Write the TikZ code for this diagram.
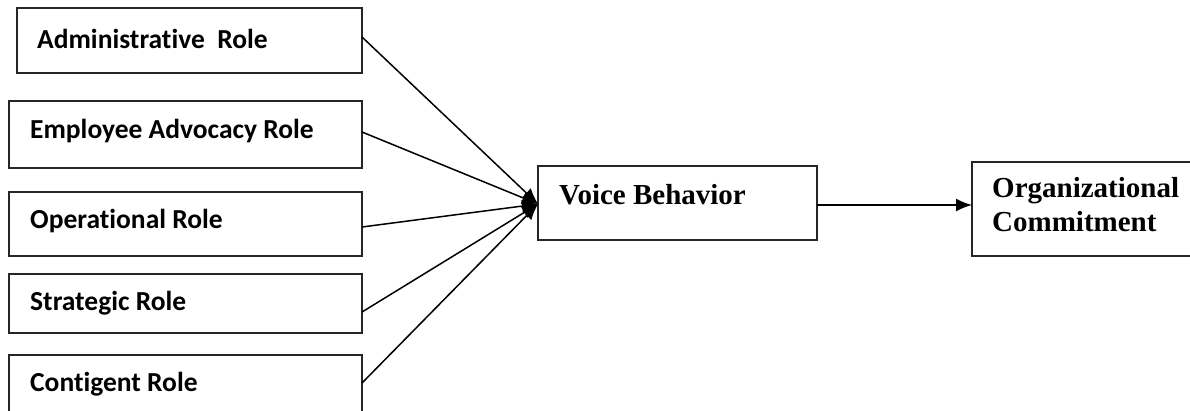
\documentclass[tikz,border=0pt]{standalone}
\usepackage{fontspec}
\setmainfont{Liberation Serif}
\newfontfamily\calib[Ligatures=NoCommon]{Carlito}
\usetikzlibrary{arrows.meta}
\begin{document}
\begin{tikzpicture}[x=1pt,y=-1pt,
  box/.style={draw=black!85, line width=1.4pt},
  roletext/.style={anchor=west, inner sep=0pt, font=\calib\bfseries\fontsize{27.5}{30}\selectfont},
  sertext/.style={anchor=west, inner sep=0pt, align=left, font=\bfseries\fontsize{29}{34}\selectfont},
  conn/.style={line width=1.5pt, -{Latex[length=16pt,width=13pt]}}]
\useasboundingbox (0,0) rectangle (1190,410);
\begin{scope}
\clip (0,0) rectangle (1190,410);
% left boxes
\draw[box] (17,8) rectangle (362,73);
\draw[box] (9,101) rectangle (362,168);
\draw[box] (9,192) rectangle (362,256);
\draw[box] (9,274) rectangle (362,333);
\draw[box] (9,355) rectangle (362,420);
% right boxes
\draw[box] (538,166) rectangle (817,240);
\draw[box] (972,162) rectangle (1196,256);
\end{scope}
% anchor coordinates
\coordinate (s1) at (362,37);
\coordinate (s2) at (362,132);
\coordinate (s3) at (362,227);
\coordinate (s4) at (362,312);
\coordinate (s5) at (362,383);
\coordinate (vin) at (538,204);
\coordinate (vout) at (817,205);
\coordinate (oin) at (972,205);
% texts
\node[roletext] (t1) at (37,39) {Administrative\ \ Role};
\node[roletext] (t2) at (30,131) {Employee Advocacy Role};
\node[roletext] (t3) at (30,221) {Operational Role};
\node[roletext] (t4) at (30,303) {Strategic Role};
\node[roletext] (t5) at (30,384) {Contigent Role};
\node[sertext] (vb) at (559,195) {Voice Behavior};
\node[sertext] (oc) at (992,205) {Organizational\\Commitment};
% connectors
\foreach \s in {s1,s2,s3,s4,s5}
  \draw[conn] (\s) -- (vin);
\draw[conn] (vout) -- (oin);
\end{tikzpicture}
\end{document}
